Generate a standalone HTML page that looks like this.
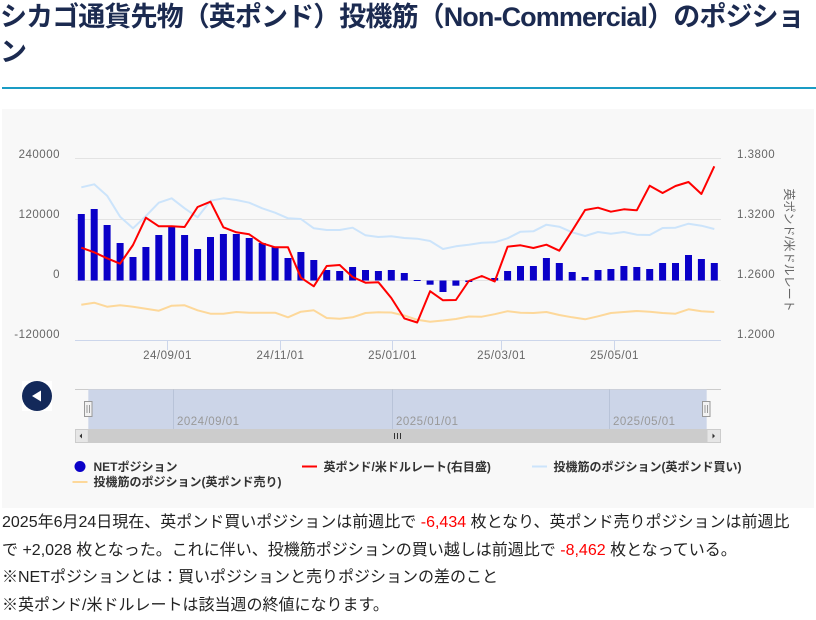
<!DOCTYPE html>
<html><head><meta charset="utf-8">
<style>
html,body{margin:0;padding:0;background:#fff;width:816px;height:620px;overflow:hidden;}
body{position:relative;font-family:"Liberation Sans","Noto Sans CJK JP",sans-serif;}
h1{position:absolute;left:0;top:0;margin:0;font-size:27px;line-height:35px;font-weight:bold;color:#1b2a50;white-space:nowrap;letter-spacing:-0.9px;font-family:"Liberation Sans","Noto Sans CJK JP",sans-serif;}
.rule{position:absolute;left:2px;top:87px;width:814px;height:2px;background:#1a9cc4;}
.chartbg{position:absolute;left:2px;top:109px;width:812px;height:399px;background:#f8f8f8;}
svg{position:absolute;left:0;top:0;}
.para{position:absolute;left:2px;top:509px;font-size:16px;line-height:27.7px;color:#222;white-space:nowrap;}
.r{color:#f00;}
</style></head>
<body>
<h1>シカゴ通貨先物（英ポンド）投機筋（Non-Commercial）のポジショ<br>ン</h1>
<div class="rule"></div>
<div class="chartbg"></div>
<svg width="816" height="620" viewBox="0 0 816 620" xmlns="http://www.w3.org/2000/svg">
<!-- grid -->
<g stroke="#e3e3e3" stroke-width="1">
<line x1="75" y1="158.5" x2="721" y2="158.5"/>
<line x1="75" y1="219.5" x2="721" y2="219.5"/>
<line x1="75" y1="280.5" x2="721" y2="280.5"/>
</g>
<line x1="75" y1="340.5" x2="721" y2="340.5" stroke="#ccd6eb" stroke-width="1"/>
<g stroke="#ccd6eb" stroke-width="1">
<line x1="167.5" y1="340.5" x2="167.5" y2="350"/>
<line x1="280.5" y1="340.5" x2="280.5" y2="350"/>
<line x1="392.5" y1="340.5" x2="392.5" y2="350"/>
<line x1="501.5" y1="340.5" x2="501.5" y2="350"/>
<line x1="614.5" y1="340.5" x2="614.5" y2="350"/>
</g>
<!-- axis labels -->
<g font-family="Liberation Sans, sans-serif" font-size="11.5" fill="#666" letter-spacing="0.5">
<text x="60" y="158" text-anchor="end">240000</text>
<text x="60" y="218" text-anchor="end">120000</text>
<text x="60" y="278" text-anchor="end">0</text>
<text x="60" y="338" text-anchor="end">-120000</text>
<text x="737" y="158">1.3800</text>
<text x="737" y="218">1.3200</text>
<text x="737" y="278">1.2600</text>
<text x="737" y="338">1.2000</text>
<text x="167.5" y="359" text-anchor="middle">24/09/01</text>
<text x="280.5" y="359" text-anchor="middle">24/11/01</text>
<text x="392.5" y="359" text-anchor="middle">25/01/01</text>
<text x="501.5" y="359" text-anchor="middle">25/03/01</text>
<text x="614.5" y="359" text-anchor="middle">25/05/01</text>
</g>
<text x="0" y="0" transform="translate(785,250) rotate(90)" text-anchor="middle" font-family="Liberation Sans, Noto Sans CJK JP, sans-serif" font-size="12" fill="#666">英ポンド/米ドルレート</text>
<!-- light blue (buy) -->
<polyline fill="none" stroke="#cce4fb" stroke-width="2" stroke-linejoin="round" points="81.3,187.3 94.2,184.3 107.1,195.7 120.1,216.7 133,228.3 145.9,216 158.8,202.7 171.7,198.3 184.6,208.3 197.6,217.3 210.5,200.7 223.4,198.3 236.3,200 249.2,202.7 262.2,208.3 275.1,212.7 288,218.3 300.9,219 313.8,228.3 326.7,230 339.7,230 352.6,227.7 365.5,235.3 378.4,237 391.3,236.3 404.3,238 417.2,238.7 430.1,241 443,249 455.9,246.3 468.8,244.7 481.8,242.7 494.7,242.3 507.6,238.3 520.5,231.7 533.4,231.3 546.4,224.7 559.3,226.7 572.2,232.3 585.1,236 598,232 610.9,233.7 623.9,232 636.8,234.7 649.7,235 662.6,228 675.5,227.7 688.5,223.7 701.4,225.7 714.3,229"/>
<!-- peach (sell) -->
<polyline fill="none" stroke="#fdd89a" stroke-width="2" stroke-linejoin="round" points="81.3,304.7 94.2,302.7 107.1,306.7 120.1,305.3 133,306.7 145.9,308.7 158.8,310.7 171.7,305.7 184.6,305.3 197.6,310.3 210.5,313.7 223.4,313.7 236.3,312 249.2,312.7 262.2,312.7 275.1,312.7 288,317.3 300.9,311.7 313.8,310.3 326.7,318 339.7,318.7 352.6,317.3 365.5,313 378.4,312.3 391.3,312.5 404.3,315.5 417.2,319.8 430.1,321.7 443,320.5 455.9,319 468.8,316.5 481.8,316.7 494.7,314.2 507.6,311.2 520.5,312.7 533.4,313 546.4,312 559.3,315 572.2,317.3 585.1,319.3 598,316.3 610.9,313 623.9,312 636.8,311 649.7,311.7 662.6,313 675.5,313.7 688.5,309.3 701.4,311.3 714.3,312"/>
<!-- bars -->
<g fill="#0a00c8">
<rect x="77.8" y="214" width="7" height="66.5"/>
<rect x="90.7" y="209" width="7" height="71.5"/>
<rect x="103.6" y="225" width="7" height="55.5"/>
<rect x="116.6" y="243" width="7" height="37.5"/>
<rect x="129.5" y="257" width="7" height="23.5"/>
<rect x="142.4" y="247" width="7" height="33.5"/>
<rect x="155.3" y="235" width="7" height="45.5"/>
<rect x="168.2" y="226.7" width="7" height="53.8"/>
<rect x="181.1" y="235" width="7" height="45.5"/>
<rect x="194.1" y="249" width="7" height="31.5"/>
<rect x="207" y="237" width="7" height="43.5"/>
<rect x="219.9" y="234" width="7" height="46.5"/>
<rect x="232.8" y="234" width="7" height="46.5"/>
<rect x="245.7" y="238" width="7" height="42.5"/>
<rect x="258.7" y="243" width="7" height="37.5"/>
<rect x="271.6" y="247" width="7" height="33.5"/>
<rect x="284.5" y="258" width="7" height="22.5"/>
<rect x="297.4" y="252" width="7" height="28.5"/>
<rect x="310.3" y="260" width="7" height="20.5"/>
<rect x="323.2" y="270" width="7" height="10.5"/>
<rect x="336.2" y="271" width="7" height="9.5"/>
<rect x="349.1" y="267" width="7" height="13.5"/>
<rect x="362" y="270" width="7" height="10.5"/>
<rect x="374.9" y="271" width="7" height="9.5"/>
<rect x="387.8" y="270" width="7" height="10.5"/>
<rect x="400.8" y="273" width="7" height="7.5"/>
<rect x="413.7" y="280" width="7" height="1"/>
<rect x="426.6" y="280.5" width="7" height="4.2"/>
<rect x="439.5" y="280.5" width="7" height="11.5"/>
<rect x="452.4" y="280.5" width="7" height="5.2"/>
<rect x="465.3" y="280.5" width="7" height="1.5"/>
<rect x="491.2" y="278" width="7" height="2.5"/>
<rect x="504.1" y="271" width="7" height="9.5"/>
<rect x="517" y="266" width="7" height="14.5"/>
<rect x="529.9" y="266" width="7" height="14.5"/>
<rect x="542.9" y="258" width="7" height="22.5"/>
<rect x="555.8" y="263" width="7" height="17.5"/>
<rect x="568.7" y="272" width="7" height="8.5"/>
<rect x="581.6" y="277" width="7" height="3.5"/>
<rect x="594.5" y="270" width="7" height="10.5"/>
<rect x="607.4" y="269" width="7" height="11.5"/>
<rect x="620.4" y="266" width="7" height="14.5"/>
<rect x="633.3" y="267" width="7" height="13.5"/>
<rect x="646.2" y="269" width="7" height="11.5"/>
<rect x="659.1" y="263" width="7" height="17.5"/>
<rect x="672" y="263" width="7" height="17.5"/>
<rect x="685" y="255" width="7" height="25.5"/>
<rect x="697.9" y="259" width="7" height="21.5"/>
<rect x="710.8" y="263" width="7" height="17.5"/>
</g>
<!-- red -->
<polyline fill="none" stroke="#f00" stroke-width="2" stroke-linejoin="round" points="81.3,247.7 94.2,252.3 107.1,258.3 120.1,263.7 133,245 145.9,217.7 158.8,226.3 171.7,226.3 184.6,227 197.6,207 210.5,201.7 223.4,227.3 236.3,232.3 249.2,234.3 262.2,243.3 275.1,247.3 288,247.3 300.9,277.7 313.8,286.3 326.7,266 339.7,265 352.6,277 365.5,282.7 378.4,282.2 391.3,298 404.3,318.4 417.2,322.5 430.1,291.2 443,300.3 455.9,300 468.8,281 481.8,276 494.7,281.5 507.6,246.7 520.5,245.3 533.4,248 546.4,244.7 559.3,250.7 572.2,230.7 585.1,210 598,207.7 610.9,211.7 623.9,209.3 636.8,210.3 649.7,185.7 662.6,193 675.5,186 688.5,182 701.4,194 714.3,166.3"/>
<!-- back button -->
<rect x="22" y="381" width="30" height="30" fill="#fff"/>
<circle cx="37" cy="396" r="15" fill="#13295a"/>
<polygon points="32,396 41,390.5 41,401.5" fill="#fff"/>
<!-- navigator -->
<line x1="75" y1="389.5" x2="721" y2="389.5" stroke="#ccc" stroke-width="1"/>
<rect x="88.3" y="389.5" width="618.4" height="39.5" fill="#ccd5e8"/>
<g stroke="#b8c3d8" stroke-width="1">
<line x1="173.5" y1="389.5" x2="173.5" y2="429"/>
<line x1="392.5" y1="389.5" x2="392.5" y2="429"/>
<line x1="609.5" y1="389.5" x2="609.5" y2="429"/>
</g>
<g font-family="Liberation Sans, sans-serif" font-size="11.5" fill="#999" letter-spacing="0.5">
<text x="177" y="425">2024/09/01</text>
<text x="396" y="425">2025/01/01</text>
<text x="613" y="425">2025/05/01</text>
</g>
<rect x="84.5" y="401.5" width="7.5" height="15" fill="#f2f2f2" stroke="#999" stroke-width="1"/>
<line x1="87" y1="405" x2="87" y2="413" stroke="#999"/>
<line x1="89.5" y1="405" x2="89.5" y2="413" stroke="#999"/>
<rect x="702.5" y="401.5" width="7.5" height="15" fill="#f2f2f2" stroke="#999" stroke-width="1"/>
<line x1="705" y1="405" x2="705" y2="413" stroke="#999"/>
<line x1="707.5" y1="405" x2="707.5" y2="413" stroke="#999"/>
<rect x="75" y="429" width="646" height="14" fill="#cccccc"/>
<rect x="75.5" y="429.5" width="12.8" height="13" fill="#e6e6e6" stroke="#ccc"/>
<rect x="707" y="429.5" width="13.5" height="13" fill="#e6e6e6" stroke="#ccc"/>
<polygon points="79.5,436 82,433.5 82,438.5" fill="#333"/>
<polygon points="715,436 712.5,433.5 712.5,438.5" fill="#333"/>
<g stroke="#333" stroke-width="1">
<line x1="394.5" y1="433" x2="394.5" y2="439"/>
<line x1="397.5" y1="433" x2="397.5" y2="439"/>
<line x1="400.5" y1="433" x2="400.5" y2="439"/>
</g>
<!-- legend -->
<g font-family="Liberation Sans, Noto Sans CJK JP, sans-serif" font-size="12" font-weight="bold" fill="#333">
<circle cx="80" cy="466.5" r="5.5" fill="#0a00c8"/>
<text x="93.5" y="471">NETポジション</text>
<line x1="302" y1="466.5" x2="317" y2="466.5" stroke="#f00" stroke-width="2"/>
<text x="323.5" y="471">英ポンド/米ドルレート(右目盛)</text>
<line x1="532" y1="466.5" x2="547" y2="466.5" stroke="#cce4fb" stroke-width="2"/>
<text x="553.5" y="471">投機筋のポジション(英ポンド買い)</text>
<line x1="72.5" y1="482" x2="87.5" y2="482" stroke="#fdd89a" stroke-width="2"/>
<text x="93.5" y="486">投機筋のポジション(英ポンド売り)</text>
</g>
</svg>
<div class="para">2025年6月24日現在、英ポンド買いポジションは前週比で <span class="r">-6,434</span> 枚となり、英ポンド売りポジションは前週比<br>で +2,028 枚となった。これに伴い、投機筋ポジションの買い越しは前週比で <span class="r">-8,462</span> 枚となっている。<br>※NETポジションとは：買いポジションと売りポジションの差のこと<br>※英ポンド/米ドルレートは該当週の終値になります。</div>
</body></html>
